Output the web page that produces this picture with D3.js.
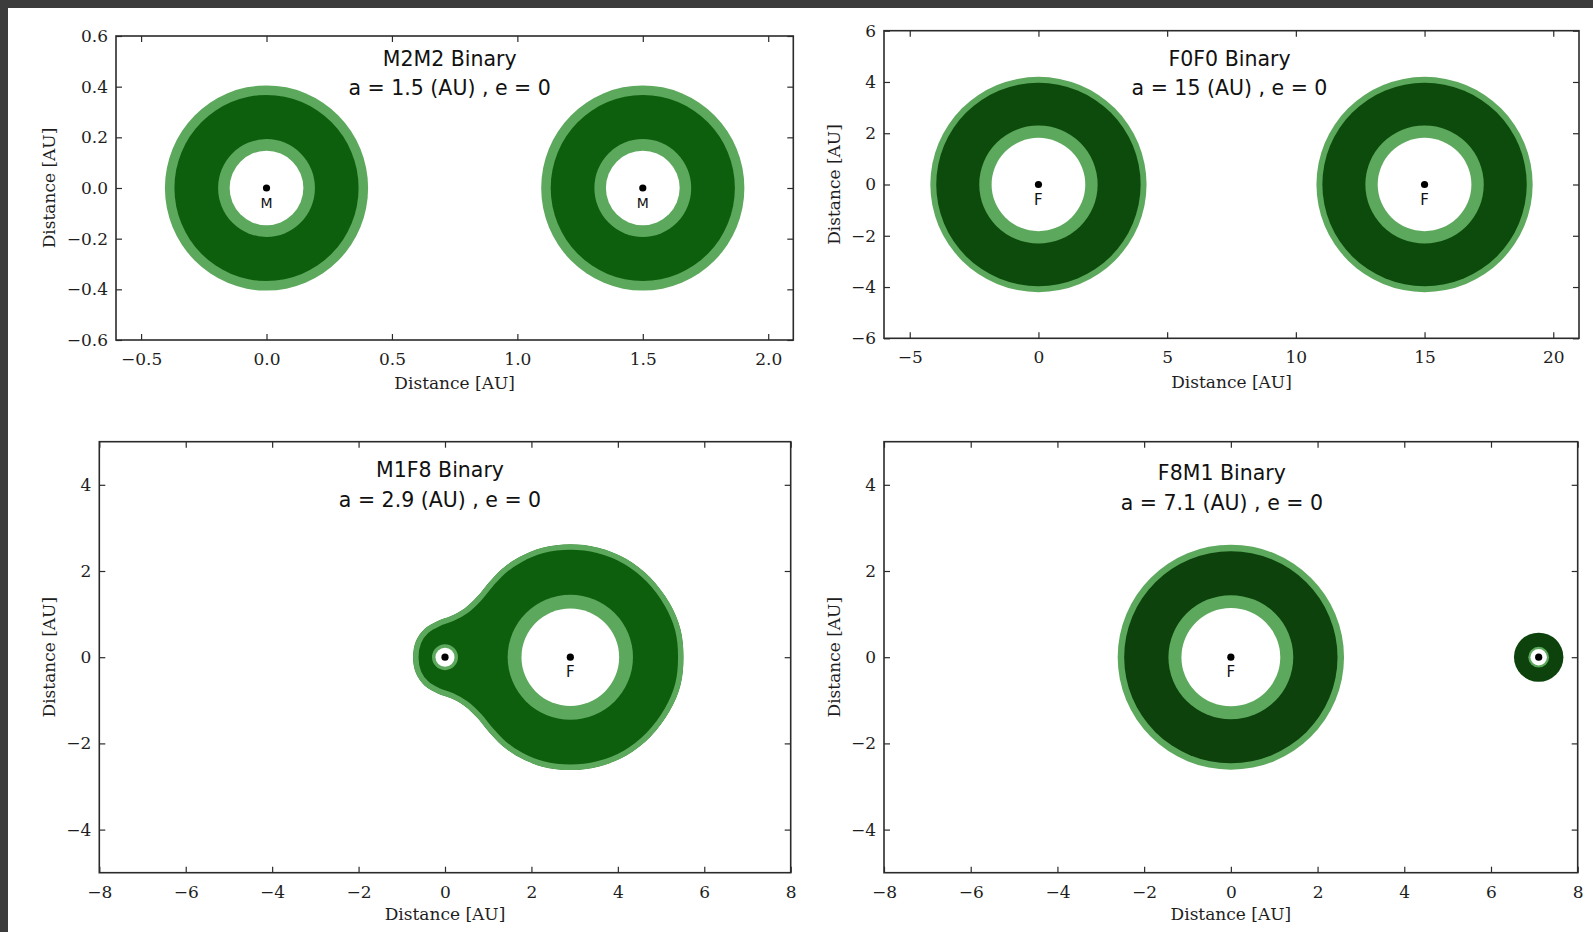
<!DOCTYPE html>
<html>
<head>
<meta charset="utf-8">
<script src="https://cdn.jsdelivr.net/npm/d3@7"></script>
<style>
  html, body { margin: 0; padding: 0; background: #ffffff; }
  svg { display: block; }
</style>
</head>
<body>
<svg id="fig" width="1593" height="932"></svg>
<script>
// ---------------- data ----------------
const titles = ["M2M2 Binary", "F0F0 Binary", "M1F8 Binary", "F8M1 Binary"];
const semiMajor = ["1.5", "15", "2.9", "7.1"];          // a (AU)
const eccentricity = ["0", "0", "0", "0"];

const xDomains = [[-0.6, 2.1], [-6, 21], [-8, 8], [-8, 8]];
const yDomains = [[-0.6, 0.6], [-6, 6], [-5, 5], [-5, 5]];
const xTicks = [
  [-0.5, 0, 0.5, 1, 1.5, 2],
  [-5, 0, 5, 10, 15, 20],
  [-8, -6, -4, -2, 0, 2, 4, 6, 8],
  [-8, -6, -4, -2, 0, 2, 4, 6, 8]
];
const yTicks = [
  [-0.6, -0.4, -0.2, 0, 0.2, 0.4, 0.6],
  [-6, -4, -2, 0, 2, 4, 6],
  [-4, -2, 0, 2, 4],
  [-4, -2, 0, 2, 4]
];
const tickFormats = [".1f", "d", "d", "d"];

// star positions (AU, on y = 0) and labels, per panel
const starX = [[0, 1.5], [0, 15], [0, 2.9], [0, 7.1]];
const starLabels = [["M", "M"], ["F", "F"], ["", "F"], ["F", ""]];

// zone radii around each star (AU)
const holeRadius  = [[0.147, 0.147], [1.82, 1.82], [0.22, 1.13], [1.14, 0.19]];  // white interior
const innerEdge   = [[0.193, 0.193], [2.30, 2.30], [0.30, 1.45], [1.44, 0.24]];  // light inner ring
const darkOuter   = [[0.367, 0.367], [3.97, 3.97], [null, null], [2.46, 0.57]];  // dark zone edge
const outerEdge   = [[0.405, 0.405], [4.20, 4.20], [null, null], [2.61, 0.57]];  // light outer rim

// shared outer boundary of the M1F8 zone (AU)
const m1f8Outline = [
  [-0.74, 0], [-0.67, 0.38], [-0.47, 0.66], [-0.17, 0.84], [0.15, 0.96], [0.45, 1.13],
  [0.74, 1.40], [1.02, 1.74], [1.33, 2.06], [1.73, 2.33], [2.25, 2.54], [2.90, 2.62],
  [3.55, 2.54], [4.20, 2.28], [4.75, 1.85], [5.20, 1.25], [5.45, 0.65], [5.52, 0],
  [5.45, -0.65], [5.20, -1.25], [4.75, -1.85], [4.20, -2.28], [3.55, -2.54], [2.90, -2.62],
  [2.25, -2.54], [1.73, -2.33], [1.33, -2.06], [1.02, -1.74], [0.74, -1.40], [0.45, -1.13],
  [0.15, -0.96], [-0.17, -0.84], [-0.47, -0.66], [-0.67, -0.38]
];

// ---------------- layout & style ----------------
const plotBoxes = [  // [left, top, right, bottom] in px
  [116, 36, 793.3, 340],
  [884, 30.7, 1579, 338.3],
  [99.3, 441.7, 790.7, 872.7],
  [884, 441.7, 1577.7, 872.7]
];
const titleY = [[59, 88], [59, 88], [470, 500], [473, 503]];
const titleDx = [-5, -2, -5, -9];
const xLabelY = [383, 382, 914, 914];
const yLabelX = [49, 834, 49, 834];
const darkFill = ["#0e5e0e", "#0c4b0c", "#0e5e0e", "#0a420a"];
const lightFill = "#5ca85c";
const axisColor = "#2b2b2b";
const serif = "'DejaVu Serif', 'Liberation Serif', serif";
const sans = "'DejaVu Sans', 'Liberation Sans', sans-serif";

const svg = d3.select("#fig");
const W = 1593, H = 932;

// window frame strips
svg.append("rect").attr("x", 0).attr("y", 0).attr("width", W).attr("height", 8).attr("fill", "#3c3c3c");
svg.append("rect").attr("x", 0).attr("y", 0).attr("width", 8).attr("height", H).attr("fill", "#3c3c3c");

const defs = svg.append("defs");
defs.append("filter").attr("id", "soft")
  .append("feGaussianBlur").attr("stdDeviation", 0.7);

titles.forEach((title, p) => {
  const [L, T, R, B] = plotBoxes[p];
  const x = d3.scaleLinear().domain(xDomains[p]).range([L, R]);
  const y = d3.scaleLinear().domain(yDomains[p]).range([B, T]);
  const g = svg.append("g");

  defs.append("clipPath").attr("id", "plot" + p)
    .append("rect").attr("x", L).attr("y", T).attr("width", R - L).attr("height", B - T);

  const zones = g.append("g").attr("clip-path", `url(#plot${p})`)
    .append("g").attr("filter", "url(#soft)");

  const ell = (sel, cx, r, fill) => sel.append("ellipse")
    .attr("cx", x(cx)).attr("cy", y(0))
    .attr("rx", Math.abs(x(r) - x(0))).attr("ry", Math.abs(y(r) - y(0)))
    .attr("fill", fill);

  // shared (non-circular) zone
  if (p === 2) {
    const line = d3.line().x(d => x(d[0])).y(d => y(d[1])).curve(d3.curveCatmullRomClosed.alpha(0.5));
    defs.append("clipPath").attr("id", "shape" + p)
      .append("path").attr("d", line(m1f8Outline));
    zones.append("path").attr("d", line(m1f8Outline))
      .attr("fill", darkFill[p]).attr("stroke", lightFill).attr("stroke-width", 11)
      .attr("clip-path", `url(#shape${p})`);
  }
  // outer rims and dark zones
  starX[p].forEach((sx, i) => {
    if (outerEdge[p][i] != null && outerEdge[p][i] > darkOuter[p][i]) ell(zones, sx, outerEdge[p][i], lightFill);
  });
  starX[p].forEach((sx, i) => {
    if (darkOuter[p][i] != null) ell(zones, sx, darkOuter[p][i], darkFill[p]);
  });
  // inner rings and clear interiors
  starX[p].forEach((sx, i) => {
    ell(zones, sx, innerEdge[p][i], lightFill);
    ell(zones, sx, holeRadius[p][i], "#ffffff");
  });

  // stars
  starX[p].forEach((sx, i) => {
    g.append("circle").attr("cx", x(sx)).attr("cy", y(0)).attr("r", 3.6).attr("fill", "#000");
    if (starLabels[p][i]) {
      g.append("text").attr("x", x(sx)).attr("y", y(0) + 20)
        .attr("text-anchor", "middle").attr("font-family", sans)
        .attr("font-size", p === 0 ? 14 : 15).attr("fill", "#111")
        .text(starLabels[p][i]);
    }
  });

  // axes: labelled bottom/left, inward ticks on all sides
  const fmt = d3.format(tickFormats[p]);
  const styleAxis = sel => {
    sel.select(".domain").remove();
    sel.selectAll(".tick line").attr("stroke", axisColor).attr("stroke-width", 1.2);
    sel.selectAll(".tick text").attr("font-family", serif).attr("font-size", 17).attr("fill", "#1e1e1e");
  };
  g.append("g").attr("transform", `translate(0,${B})`)
    .call(d3.axisBottom(x).tickValues(xTicks[p]).tickFormat(fmt).tickSizeInner(-6).tickSizeOuter(0).tickPadding(13))
    .call(styleAxis);
  g.append("g").attr("transform", `translate(0,${T})`)
    .call(d3.axisTop(x).tickValues(xTicks[p]).tickFormat("").tickSizeInner(-6).tickSizeOuter(0))
    .call(styleAxis);
  g.append("g").attr("transform", `translate(${L},0)`)
    .call(d3.axisLeft(y).tickValues(yTicks[p]).tickFormat(fmt).tickSizeInner(-6).tickSizeOuter(0).tickPadding(8))
    .call(styleAxis);
  g.append("g").attr("transform", `translate(${R},0)`)
    .call(d3.axisRight(y).tickValues(yTicks[p]).tickFormat("").tickSizeInner(-6).tickSizeOuter(0))
    .call(styleAxis);

  g.append("rect").attr("x", L).attr("y", T).attr("width", R - L).attr("height", B - T)
    .attr("fill", "none").attr("stroke", axisColor).attr("stroke-width", 1.6);

  // titles
  const cx = (L + R) / 2 + titleDx[p];
  g.append("text").attr("x", cx).attr("y", titleY[p][0]).attr("dy", "0.35em")
    .attr("text-anchor", "middle").attr("font-family", sans).attr("font-size", 20.5).attr("fill", "#111")
    .text(title);
  g.append("text").attr("x", cx).attr("y", titleY[p][1]).attr("dy", "0.35em")
    .attr("text-anchor", "middle").attr("font-family", sans).attr("font-size", 20.5).attr("fill", "#111")
    .text(`a = ${semiMajor[p]} (AU) , e = ${eccentricity[p]}`);

  // axis labels
  g.append("text").attr("x", (L + R) / 2).attr("y", xLabelY[p]).attr("dy", "0.35em")
    .attr("text-anchor", "middle").attr("font-family", serif).attr("font-size", 17).attr("fill", "#1e1e1e")
    .text("Distance [AU]");
  g.append("text").attr("transform", `translate(${yLabelX[p]},${(T + B) / 2}) rotate(-90)`)
    .attr("dy", "0.35em").attr("text-anchor", "middle").attr("font-family", serif)
    .attr("font-size", 17).attr("fill", "#1e1e1e")
    .text("Distance [AU]");
});
</script>
</body>
</html>
